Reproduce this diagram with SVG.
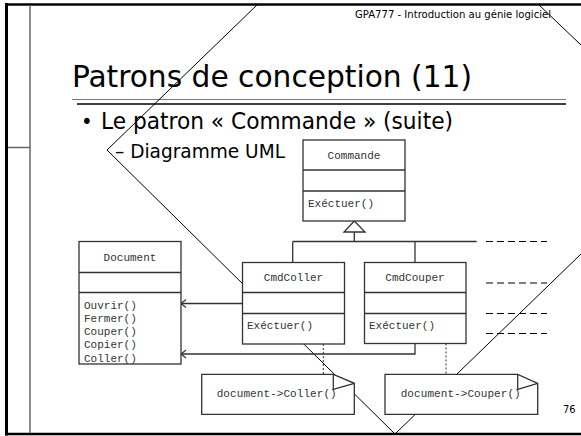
<svg xmlns="http://www.w3.org/2000/svg" width="581" height="436" viewBox="0 0 581 436">
<style>
.frame{stroke:#000;fill:none}
.box{fill:#fff;stroke:#333;stroke-width:1.3}
.div{stroke:#333;stroke-width:1.3}
.mono{font-family:"Liberation Mono","DejaVu Sans Mono",monospace;font-size:11px;fill:#333}
.sans{font-family:"DejaVu Sans Condensed","DejaVu Sans","Liberation Sans",sans-serif;fill:#000}
.conn{fill:none;stroke:#333;stroke-width:1.3}
.dash{fill:none;stroke:#333;stroke-width:1;stroke-dasharray:2 2}
.mark{fill:none;stroke:#000;stroke-width:1}
.rdash{stroke:#000;stroke-width:1.2;stroke-dasharray:7 4}
</style>
<defs>
<marker id="open" markerUnits="userSpaceOnUse" markerWidth="10" markerHeight="10" refX="0" refY="0" orient="auto" style="overflow:visible">
<path d="M-5,-4 L0,0 L-5,4" fill="none" stroke="#333" stroke-width="1.2"/>
</marker>
</defs>
<rect x="0" y="0" width="581" height="436" fill="#fff"/>
<g id="frame" class="frame">
<line x1="5" y1="4.5" x2="581" y2="4.5" stroke-width="2.5"/>
<line x1="6.5" y1="3" x2="6.5" y2="435.5" stroke-width="3"/>
<line x1="5" y1="434" x2="581" y2="434" stroke-width="2.5"/>
<line x1="30" y1="5" x2="30" y2="433" stroke="#666" stroke-width="1.5"/>
<line x1="8" y1="147.5" x2="30" y2="147.5" stroke="#666" stroke-width="1.5"/>
<line x1="72" y1="99.5" x2="566" y2="99.5" stroke="#777" stroke-width="1.2"/>
<line x1="77" y1="104" x2="566" y2="104" stroke="#000" stroke-width="1.5"/>
</g>
<g id="texts" class="sans">
<text x="355" y="18" font-size="10.5" textLength="196" lengthAdjust="spacingAndGlyphs">GPA777 - Introduction au génie logiciel</text>
<text x="72" y="87" font-size="31" textLength="400" lengthAdjust="spacingAndGlyphs">Patrons de conception (11)</text>
<text x="81" y="129" font-size="22">•</text>
<text x="101" y="129" font-size="23" textLength="352" lengthAdjust="spacingAndGlyphs">Le patron « Commande » (suite)</text>
<text x="115" y="158" font-size="19.5" textLength="170" lengthAdjust="spacingAndGlyphs">– Diagramme UML</text>
<text x="563" y="413" font-size="11">76</text>
</g>
<g id="marks" class="mark">
<line x1="258" y1="4" x2="107" y2="150"/>
<line x1="107" y1="150" x2="395" y2="434"/>
<line x1="395" y1="434" x2="581" y2="254"/>
<line x1="538" y1="4" x2="581" y2="45"/>
<line class="rdash" x1="486" y1="241.5" x2="547" y2="241.5"/>
<line class="rdash" x1="486" y1="283" x2="547" y2="283"/>
<line class="rdash" x1="486" y1="313.5" x2="547" y2="313.5"/>
<line class="rdash" x1="486" y1="333.5" x2="547" y2="333.5"/>
</g>
<g id="connectors">
<line class="conn" x1="354.3" y1="232" x2="354.3" y2="241.5"/>
<line class="conn" x1="292.7" y1="241.5" x2="476.7" y2="241.5"/>
<line class="conn" x1="292.7" y1="241.5" x2="292.7" y2="262.5"/>
<line class="conn" x1="415" y1="241.5" x2="415" y2="262.5"/>
<polygon class="box" points="354.3,221 344,232 365,232"/>
<path class="conn" d="M242.5,303.5 L181,303.5" marker-end="url(#open)"/>
<path class="conn" d="M415,343.5 L415,354 L181,354" marker-end="url(#open)"/>
<line class="dash" x1="323.3" y1="344" x2="323.3" y2="374.3"/>
<line class="dash" x1="446" y1="343.5" x2="446" y2="374.3"/>
</g>
<g id="commande">
<rect class="box" x="303" y="140" width="102" height="81"/>
<line class="div" x1="303" y1="170" x2="405" y2="170"/>
<line class="div" x1="303" y1="191" x2="405" y2="191"/>
<text class="mono" x="354" y="159" text-anchor="middle">Commande</text>
<text class="mono" x="308" y="207">Exéctuer()</text>
</g>
<g id="cmdcoller">
<rect class="box" x="242.5" y="262.5" width="102" height="81.5"/>
<line class="div" x1="242.5" y1="292.5" x2="344.5" y2="292.5"/>
<line class="div" x1="242.5" y1="313.5" x2="344.5" y2="313.5"/>
<text class="mono" x="293.5" y="281" text-anchor="middle">CmdColler</text>
<text class="mono" x="247" y="329">Exéctuer()</text>
</g>
<g id="cmdcouper">
<rect class="box" x="364.5" y="262.5" width="101.5" height="81"/>
<line class="div" x1="364.5" y1="292.5" x2="466" y2="292.5"/>
<line class="div" x1="364.5" y1="313.5" x2="466" y2="313.5"/>
<text class="mono" x="415" y="281" text-anchor="middle">CmdCouper</text>
<text class="mono" x="369" y="329">Exéctuer()</text>
</g>
<g id="document">
<rect class="box" x="79" y="241.5" width="102" height="122.5"/>
<line class="div" x1="79" y1="272.5" x2="181" y2="272.5"/>
<line class="div" x1="79" y1="292.5" x2="181" y2="292.5"/>
<text class="mono" x="130" y="261" text-anchor="middle">Document</text>
<text class="mono" x="84" y="308.5">Ouvrir()</text>
<text class="mono" x="84" y="321.8">Fermer()</text>
<text class="mono" x="84" y="335.1">Couper()</text>
<text class="mono" x="84" y="348.4">Copier()</text>
<text class="mono" x="84" y="361.7">Coller()</text>
</g>
<g id="note-coller">
<polygon class="box" points="201.7,374.3 333.3,374.3 354.3,383.3 354.3,414.3 201.7,414.3"/>
<polyline class="conn" points="333.3,374.3 333.3,389.3 354.3,383.3"/>
<text class="mono" x="216.7" y="397" textLength="120">document-&gt;Coller()</text>
</g>
<g id="note-couper">
<polygon class="box" points="385,374.3 517.7,374.3 537.7,383.3 537.7,414.3 385,414.3"/>
<polyline class="conn" points="517.7,374.3 517.7,389.3 537.7,383.3"/>
<text class="mono" x="400.7" y="397" textLength="120">document-&gt;Couper()</text>
</g>
</svg>
